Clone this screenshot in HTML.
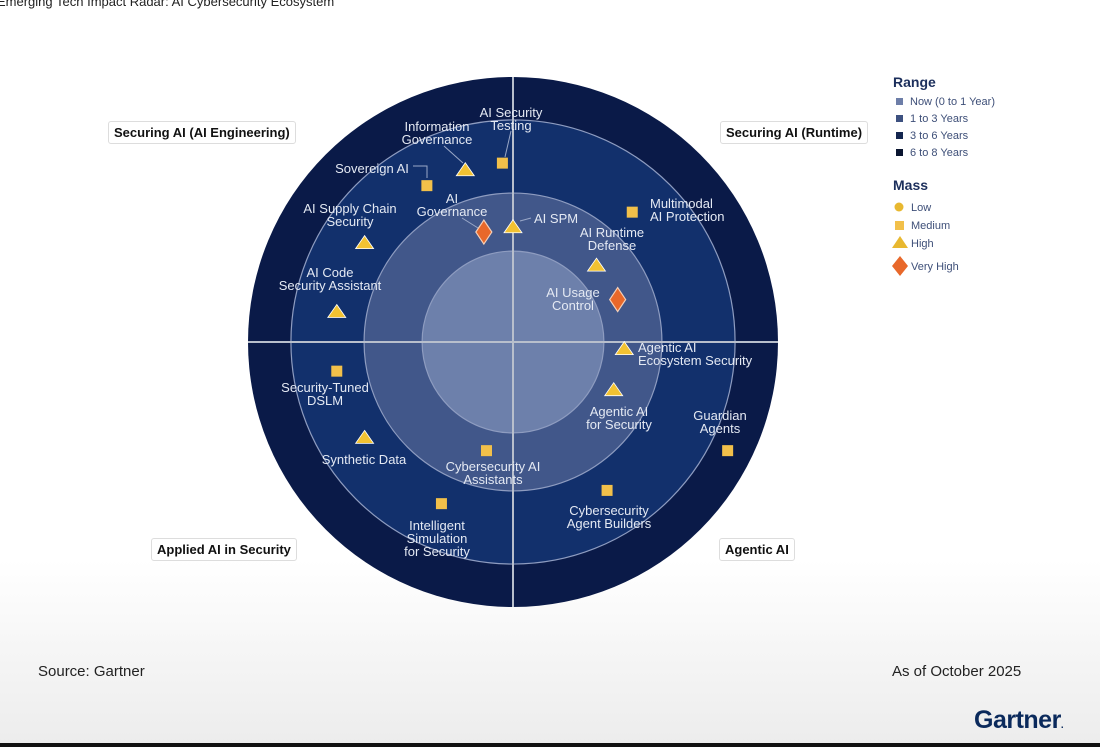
<!DOCTYPE html>
<html><head><meta charset="utf-8"><style>
body{margin:0;width:1100px;height:747px;overflow:hidden;font-family:"Liberation Sans",sans-serif;background:linear-gradient(#fff 0,#fff 560px,#ececec 747px);position:relative}
.q{position:absolute;background:#fff;border:1px solid #ddd;border-radius:3px;font-weight:bold;font-size:13px;color:#111;padding:3px 5px;white-space:nowrap}
.t{position:absolute;font-size:15px;color:#222}
</style></head><body>
<div style="position:absolute;left:-3px;top:-6px;font-size:13px;color:#222">Emerging Tech Impact Radar: AI Cybersecurity Ecosystem</div>
<svg width="1100" height="747" style="position:absolute;left:0;top:0" id="svg"></svg>
<div class="q" style="left:108px;top:121px">Securing AI (AI Engineering)</div>
<div class="q" style="left:720px;top:121px">Securing AI (Runtime)</div>
<div class="q" style="left:151px;top:538px">Applied AI in Security</div>
<div class="q" style="left:719px;top:538px">Agentic AI</div>
<div class="t" style="left:38px;top:663px">Source: Gartner</div>
<div class="t" style="left:892px;top:663px">As of October 2025</div>
<div style="position:absolute;left:974px;top:706px;font-size:25px;font-weight:bold;color:#0b2a5c;letter-spacing:-0.5px">Gartner<span style="font-size:10px">.</span></div>
<div style="position:absolute;left:0;top:743px;width:1100px;height:4px;background:#111"></div>
<script>
const names=["AI Security Testing","Information Governance","Sovereign AI","AI Governance","AI SPM","AI Supply Chain Security","AI Code Security Assistant","Multimodal AI Protection","AI Runtime Defense","AI Usage Control","Agentic AI Ecosystem Security","Agentic AI for Security","Guardian Agents","Cybersecurity Agent Builders","Cybersecurity AI Assistants","Intelligent Simulation for Security","Synthetic Data","Security-Tuned DSLM"];
const xs=[-0.04,-0.18,-0.325,-0.11,0,-0.56,-0.665,0.45,0.315,0.395,0.42,0.38,0.81,0.355,-0.10,-0.27,-0.56,-0.665];
const ys=[0.675,0.65,0.59,0.415,0.435,0.375,0.115,0.49,0.29,0.16,-0.025,-0.18,-0.41,-0.56,-0.41,-0.61,-0.36,-0.11];
const mass=["medium","high","medium","veryhigh","high","high","high","medium","high","veryhigh","high","high","medium","medium","medium","medium","high","medium"];
const rings=[1,0.838,0.562,0.343];
const ringLabels=["6 to 8 Years","3 to 6 Years","1 to 3 Years","Now (0 to 1 Year)"];
// label layout (lines, x, y of first line, anchor)
const layout=[
[["AI Security","Testing"],511,117,"middle"],[["Information","Governance"],437,131,"middle"],[["Sovereign AI"],372,173,"middle"],
[["AI","Governance"],452,203,"middle"],[["AI SPM"],534,223,"start"],[["AI Supply Chain","Security"],350,213,"middle"],
[["AI Code","Security Assistant"],330,277,"middle"],[["Multimodal","AI Protection"],650,208,"start"],[["AI Runtime","Defense"],612,237,"middle"],
[["AI Usage","Control"],573,297,"middle"],[["Agentic AI","Ecosystem Security"],638,352,"start"],[["Agentic AI","for Security"],619,416,"middle"],
[["Guardian","Agents"],720,420,"middle"],[["Cybersecurity","Agent Builders"],609,515,"middle"],[["Cybersecurity AI","Assistants"],493,471,"middle"],
[["Intelligent","Simulation","for Security"],437,530,"middle"],[["Synthetic Data"],364,464,"middle"],[["Security-Tuned","DSLM"],325,392,"middle"]];
const CX=513,CY=342,R=265;
const sx=v=>CX+v*R, sy=v=>CY-v*R;
const svg=document.getElementById('svg');const NS="http://www.w3.org/2000/svg";
function mk(t,a,p){const e=document.createElementNS(NS,t);for(const k in a)e.setAttribute(k,a[k]);(p||svg).appendChild(e);return e;}
const fills=["#0a1a48","#12306c","#41578a","#6d80ab"];
rings.forEach((r,i)=>{const c=mk('circle',{cx:CX,cy:CY,r:r*R,fill:fills[i],stroke:i?"#8e9cc0":"none","stroke-width":1.2});

});
let l1=mk('line',{x1:CX,y1:CY-R,x2:CX,y2:CY+R,stroke:"#b8bfcc","stroke-width":2});


let l2=mk('line',{x1:CX-R,y1:CY,x2:CX+R,y2:CY,stroke:"#b8bfcc","stroke-width":2});


// leader lines
mk('line',{x1:444,y1:146,x2:463,y2:163,stroke:"#9aa8c8","stroke-width":1});
mk('path',{d:"M413 166 L427 166 L427 178",stroke:"#9aa8c8",fill:"none","stroke-width":1});
mk('line',{x1:462,y1:218,x2:478,y2:228,stroke:"#9aa8c8","stroke-width":1});
mk('line',{x1:520,y1:221,x2:531,y2:218,stroke:"#9aa8c8","stroke-width":1});
mk('line',{x1:505,y1:157,x2:511,y2:131,stroke:"#9aa8c8","stroke-width":1});
names.forEach((n,i)=>{const x=sx(xs[i]),y=sy(ys[i]);let m;
if(mass[i]=="medium")m=mk('rect',{x:x-5.5,y:y-5.5,width:11,height:11,fill:"#f2c04a"});
else if(mass[i]=="high")m=mk('polygon',{points:`${x},${y-7} ${x+9},${y+6} ${x-9},${y+6}`,fill:"#f2c232",stroke:"#fff","stroke-width":0.8});
else m=mk('polygon',{points:`${x},${y-12} ${x+8},${y} ${x},${y+12} ${x-8},${y}`,fill:"#e8682a",stroke:"#f5d0b8","stroke-width":1.2});


const L=layout[i];const t=mk('text',{x:L[1],y:L[2],"text-anchor":L[3],fill:"#e4e9f3","font-size":13,"font-family":"Liberation Sans, sans-serif"});


L[0].forEach((s,j)=>{const ts=mk('tspan',{x:L[1],dy:j?13:0},t);ts.textContent=s;});});
// legend
const LX=893;
let tt=mk('text',{x:LX,y:87,fill:"#1c2f5c","font-size":14,"font-weight":"bold"});tt.textContent="Range";


const lc=["#6d7ea8","#3d5180","#14264f","#0a1530"];
ringLabels.slice().reverse().forEach((s,i)=>{const y=102+i*17;mk('rect',{x:LX+3,y:y-4,width:7,height:7,fill:lc[i]});
const t=mk('text',{x:LX+17,y:y+3,fill:"#3e4f78","font-size":11});t.textContent=s;

});
let mt=mk('text',{x:LX,y:190,fill:"#1c2f5c","font-size":14,"font-weight":"bold"});mt.textContent="Mass";


mk('circle',{cx:LX+6,cy:207,r:4.5,fill:"#e8b830"});
mk('rect',{x:LX+2,y:221,width:9,height:9,fill:"#f2c04a"});
mk('polygon',{points:`${LX+7},236 ${LX+15},248 ${LX-1},248`,fill:"#e8b830"});
mk('polygon',{points:`${LX+7},256 ${LX+15},266 ${LX+7},276 ${LX-1},266`,fill:"#e8682a"});
[["Low",211],["Medium",229],["High",247],["Very High",270]].forEach(a=>{const t=mk('text',{x:LX+18,y:a[1],fill:"#3e4f78","font-size":11});t.textContent=a[0];

});
</script>
</body></html>
